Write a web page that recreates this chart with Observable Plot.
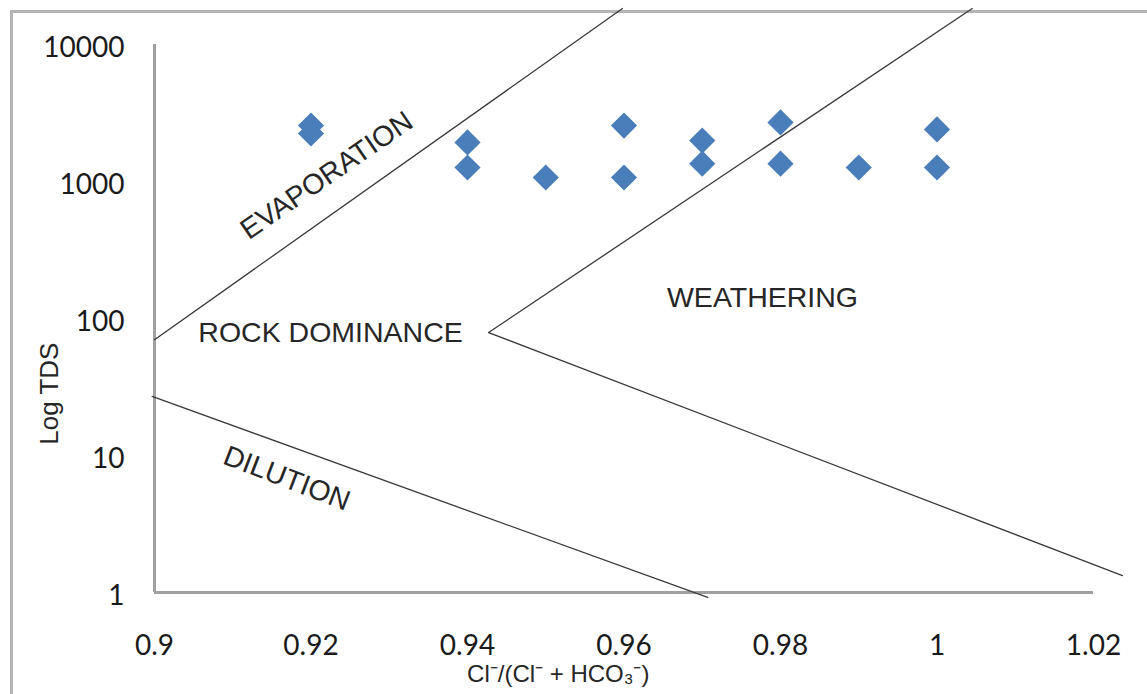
<!DOCTYPE html>
<html>
<head>
<meta charset="utf-8">
<script src="https://cdn.jsdelivr.net/npm/d3@7"></script>
<script src="https://cdn.jsdelivr.net/npm/@observablehq/plot@0.6"></script>
<style>
  body { margin: 0; background: #fff; }
  #wrap { position: relative; width: 1147px; height: 694px; overflow: hidden; background: #fff; }
  #frame { position: absolute; left: 10px; top: 10px; width: 1300px; height: 900px;
           border-left: 3px solid #b4b4b4; border-top: 3px solid #b4b4b4; }
  #chart { position: absolute; left: 0; top: 0; }
</style>
</head>
<body>
<div id="wrap"><div id="frame"></div><div id="chart"></div></div>
<script>
// Samples: Cl/(Cl+HCO3) ratio and TDS
const ratio = [0.92, 0.92, 0.94, 0.94, 0.95, 0.96, 0.96, 0.97, 0.97, 0.98, 0.98, 0.99, 1.00, 1.00];
const tds   = [2560, 2240, 1930, 1265, 1070, 2560, 1070, 1990, 1350, 2700, 1350, 1265, 2400, 1265];

// Gibbs diagram boundary lines
const evapX = [0.9, 0.9598];
const evapY = [70, 18300];
const weathX = [1.0045, 0.9427, 1.0237];
const weathY = [18300, 79, 1.33];
const dilX = [0.8997, 0.9707];
const dilY = [27, 0.92];

// Zone labels
const zoneNames = ["EVAPORATION", "ROCK DOMINANCE", "WEATHERING", "DILUTION"];
const zoneX = [0.9220, 0.9225, 0.9777, 0.9169];
const zoneY = [1106, 79, 142, 6.8];
const zoneAngle = [-34.5, 0, 0, 21];

// Axes
const xTicks = [0.9, 0.92, 0.94, 0.96, 0.98, 1.0, 1.02];
const xTickLabels = ["0.9", "0.92", "0.94", "0.96", "0.98", "1", "1.02"];
const yTicks = [1, 10, 100, 1000, 10000];
const yTickLabels = ["1", "10", "100", "1000", "10000"];
const xTitle = "Cl\u207B/(Cl\u207B + HCO\u2083\u207B)";
const yTitle = "Log TDS";

const points = ratio.map((r, i) => ({ratio: r, tds: tds[i]}));
const line = (xs, ys) => xs.map((x, i) => ({x, y: ys[i]}));
const zones = zoneNames.map((name, i) => ({name, x: zoneX[i], y: zoneY[i], a: zoneAngle[i]}));

const chart = Plot.plot({
  width: 1147,
  height: 694,
  marginLeft: 154,
  marginRight: 54,
  marginTop: 44,
  marginBottom: 102,
  style: { fontFamily: "'Liberation Sans', Arial, sans-serif", background: "transparent", overflow: "visible", color: "#1a1a1a" },
  x: { domain: [0.9, 1.02] },
  y: { type: "log", domain: [1, 10000] },
  marks: [
    Plot.ruleX([0.9], { stroke: "#a0a0a0", strokeWidth: 3 }),
    Plot.ruleY([1], { stroke: "#a0a0a0", strokeWidth: 3 }),
    Plot.axisX({ ticks: xTicks, tickFormat: d => xTickLabels[xTicks.indexOf(d)], tickSize: 0, tickPadding: 43,
                 fontSize: 28, fontFamily: "Lato", label: null, fill: "#1a1a1a" }),
    Plot.axisY({ ticks: yTicks, tickFormat: d => yTickLabels[yTicks.indexOf(d)], tickSize: 0, tickPadding: 30,
                 fontSize: 28, fontFamily: "Lato", label: null, dy: 4, fill: "#1a1a1a" }),
    Plot.line(line(evapX, evapY), { x: "x", y: "y", stroke: "#3a3a3a", strokeWidth: 1.3 }),
    Plot.line(line(weathX, weathY), { x: "x", y: "y", stroke: "#3a3a3a", strokeWidth: 1.3 }),
    Plot.line(line(dilX, dilY), { x: "x", y: "y", stroke: "#3a3a3a", strokeWidth: 1.3 }),
    Plot.dot(points, { x: "ratio", y: "tds", symbol: "diamond2", r: 11.8, fill: "#4a7ebb", stroke: "none" }),
    Plot.text(zones, { x: "x", y: "y", text: "name", rotate: "a", fontSize: 28.5, fill: "#262626" }),
    Plot.text([xTitle], { x: 0.9516, frameAnchor: "bottom", dy: 89, fontSize: 24, fill: "#262626" }),
    Plot.text([yTitle], { x: 0.9, y: 28.3, dx: -105, rotate: -90, fontSize: 26, fill: "#262626" })
  ]
});
document.getElementById("chart").appendChild(chart);
</script>
</body>
</html>
